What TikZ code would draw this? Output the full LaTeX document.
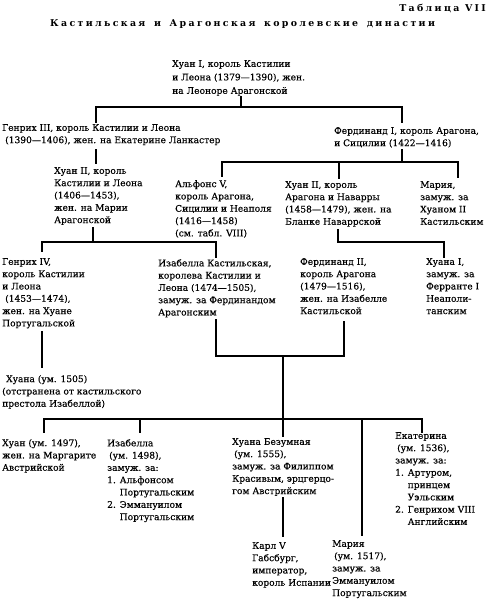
\documentclass[tikz,border=0pt]{standalone}
\usepackage{fontspec}
\setmainfont{DejaVu Serif}[FakeBold=0.3]
\newfontfamily\ttlfont[LetterSpace=25]{DejaVu Serif}
\newcommand{\wg}{\hspace{3pt} }
\begin{document}
\begin{tikzpicture}[x=1pt,y=-1pt,
  txt/.style={anchor=north west, inner sep=0pt, align=left, font=\fontsize{9.1}{12.3}\selectfont},
  ttl/.style={inner sep=0pt, font=\ttlfont\bfseries\fontsize{9.4}{10}\selectfont},
  ln/.style={line width=1.7pt, line cap=rect}]
\useasboundingbox (0,0) rectangle (488,600);
\node[ttl, anchor=east] (tab) at (486,8) {Таблица VII};
\node[ttl, anchor=west] (head) at (50,24) {Кастильская\wg и\wg Арагонская\wg королевские\wg династии};

\node[txt, font=\fontsize{9.1}{13.5}\selectfont] (j1) at (172,60) {Хуан I, король Кастилии\\и Леона (1379—1390), жен.\\на Леоноре Арагонской};
\node[txt] (h3) at (2,124) {Генрих III, король Кастилии и Леона\\\hspace{3pt}(1390—1406), жен. на Екатерине Ланкастер};
\node[txt] (f1) at (334,127) {Фердинанд I, король Арагона,\\и Сицилии (1422—1416)};
\node[txt] (j2c) at (54,167) {Хуан II, король\\Кастилии и Леона\\(1406—1453),\\жен. на Марии\\Арагонской};
\node[txt] (a5) at (175,180) {Альфонс V,\\король Арагона,\\Сицилии и Неаполя\\(1416—1458)\\(см. табл. VIII)};
\node[txt] (j2a) at (285,181) {Хуан II, король\\Арагона и Наварры\\(1458—1479), жен. на\\Бланке Наваррской};
\node[txt] (m1) at (420,181) {Мария,\\замуж. за\\Хуаном II\\Кастильским};
\node[txt] (h4) at (2,258) {Генрих IV,\\король Кастилии\\и Леона\\\hspace{3pt}(1453—1474),\\жен. на Хуане\\Португальской};
\node[txt] (i1) at (158,259) {Изабелла Кастильская,\\королева Кастилии и\\Леона (1474—1505),\\замуж. за Фердинандом\\Арагонским};
\node[txt] (f2) at (300,258) {Фердинанд II,\\король Арагона\\(1479—1516),\\жен. на Изабелле\\Кастильской};
\node[txt] (j1n) at (426,258) {Хуана I,\\замуж. за\\Ферранте I\\Неаполи-\\танским};
\node[txt] (ju) at (2,375) {\hspace{4pt}Хуана (ум. 1505)\\(отстранена от кастильского\\престола Изабеллой)};
\node[txt] (jn) at (2,439) {Хуан (ум. 1497),\\жен. на Маргарите\\Австрийской};
\node[txt] (is) at (107,439) {Изабелла\\\hspace{2pt}(ум. 1498),\\замуж. за:\\1. Альфонсом\\\phantom{1. }Португальским\\2. Эммануилом\\\phantom{1. }Португальским};
\node[txt] (jb) at (232,438) {Хуана Безумная\\\hspace{2pt}(ум. 1555),\\замуж. за Филиппом\\Красивым, эрцгерцо-\\гом Австрийским};
\node[txt] (k5) at (252,542) {Карл V\\Габсбург,\\император,\\король Испании};
\node[txt] (mr) at (332,540) {Мария\\\hspace{2pt}(ум. 1517),\\замуж. за\\Эммануилом\\Португальским};
\node[txt] (ek) at (395,432) {Екатерина\\\hspace{2pt}(ум. 1536),\\замуж. за:\\1. Артуром,\\\phantom{1. }принцем\\\phantom{1. }Уэльским\\2. Генрихом VIII\\\phantom{1. }Английским};

% junction coordinates
\coordinate (c1a) at (241,97);  \coordinate (c1b) at (241,107);
\coordinate (c1l) at (96,122);  \coordinate (c1r) at (402,122);
\coordinate (c2a) at (96,150);  \coordinate (c2b) at (96,163);
\coordinate (c3a) at (402,150); \coordinate (c3b) at (402,162);
\coordinate (c3l) at (222,176); \coordinate (c3m) at (339,178); \coordinate (c3r) at (458,177);
\coordinate (c4a) at (93,228);  \coordinate (c4b) at (93,242);
\coordinate (c4l) at (42,251);  \coordinate (c4r) at (216,257);
\coordinate (c5a) at (338,230); \coordinate (c5b) at (338,242); \coordinate (c5r) at (444,257);
\coordinate (c6a) at (42,332);  \coordinate (c6b) at (42,367);
\coordinate (c7l) at (216,320); \coordinate (c7r) at (344,322); \coordinate (c7m) at (283,356);
\coordinate (c8m) at (283,419);
\coordinate (c8l) at (44,432);  \coordinate (c8r) at (422,432);
\coordinate (c8i) at (140,432); \coordinate (c8j) at (283,436); \coordinate (c8k) at (362,535);
\coordinate (c9a) at (283,498); \coordinate (c9b) at (283,536);

\draw[ln] (c1a) -- (c1b);
\draw[ln] (c1l) |- (c1b) -| (c1r);
\draw[ln] (c2a) -- (c2b);
\draw[ln] (c3a) -- (c3b);
\draw[ln] (c3l) |- (c3b) -| (c3r);
\draw[ln] (c3b -| c3m) -- (c3m);
\draw[ln] (c4a) -- (c4b);
\draw[ln] (c4l) |- (c4b) -| (c4r);
\draw[ln] (c5a) -- (c5b) -| (c5r);
\draw[ln] (c6a) -- (c6b);
\draw[ln] (c7l) |- (c7m) -| (c7r);
\draw[ln] (c7m) -- (c8m);
\draw[ln] (c8l) |- (c8m) -| (c8r);
\draw[ln] (c8m -| c8i) -- (c8i);
\draw[ln] (c8m) -- (c8j);
\draw[ln] (c8m -| c8k) -- (c8k);
\draw[ln] (c9a) -- (c9b);
\end{tikzpicture}
\end{document}
